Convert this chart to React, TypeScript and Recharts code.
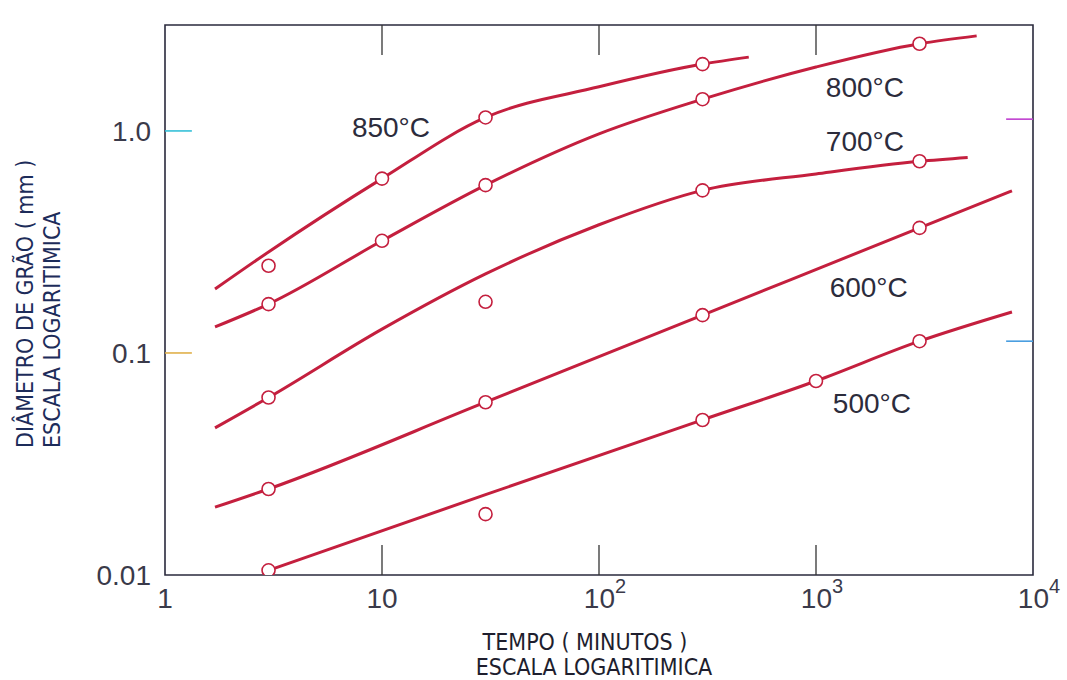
import React from "react";
import {
  ComposedChart,
  Line,
  Scatter,
  XAxis,
  YAxis,
  ReferenceArea,
  ReferenceLine,
  ReferenceDot,
} from "recharts";

// tempo (min) x diâmetro de grão (mm), escalas log
const curve850 = [
  { t: 1.7, d: 0.194 },
  { t: 3, d: 0.285 },
  { t: 10, d: 0.61 },
  { t: 30, d: 1.15 },
  { t: 100, d: 1.58 },
  { t: 300, d: 2.0 },
  { t: 490, d: 2.15 },
];
const curve800 = [
  { t: 1.7, d: 0.131 },
  { t: 3, d: 0.166 },
  { t: 10, d: 0.32 },
  { t: 30, d: 0.57 },
  { t: 100, d: 0.97 },
  { t: 300, d: 1.39 },
  { t: 1000, d: 1.94 },
  { t: 3000, d: 2.47 },
  { t: 5500, d: 2.68 },
];
const curve700 = [
  { t: 1.7, d: 0.046 },
  { t: 3, d: 0.063 },
  { t: 10, d: 0.128 },
  { t: 30, d: 0.227 },
  { t: 100, d: 0.378 },
  { t: 300, d: 0.54 },
  { t: 1000, d: 0.64 },
  { t: 3000, d: 0.73 },
  { t: 5000, d: 0.76 },
];
const curve600 = [
  { t: 1.7, d: 0.0202 },
  { t: 3, d: 0.0244 },
  { t: 30, d: 0.06 },
  { t: 300, d: 0.148 },
  { t: 3000, d: 0.366 },
  { t: 8000, d: 0.537 },
];
const curve500 = [
  { t: 3, d: 0.0105 },
  { t: 30, d: 0.023 },
  { t: 300, d: 0.05 },
  { t: 1000, d: 0.0748 },
  { t: 3000, d: 0.113 },
  { t: 8000, d: 0.153 },
];

const pts850 = [
  { t: 3, d: 0.247 },
  { t: 10, d: 0.61 },
  { t: 30, d: 1.15 },
  { t: 300, d: 2.0 },
];
const pts800 = [
  { t: 3, d: 0.166 },
  { t: 10, d: 0.32 },
  { t: 30, d: 0.57 },
  { t: 300, d: 1.39 },
  { t: 3000, d: 2.47 },
];
const pts700 = [
  { t: 3, d: 0.063 },
  { t: 30, d: 0.17 },
  { t: 300, d: 0.54 },
  { t: 3000, d: 0.73 },
];
const pts600 = [
  { t: 3, d: 0.0244 },
  { t: 30, d: 0.06 },
  { t: 300, d: 0.148 },
  { t: 3000, d: 0.366 },
];
const pts500 = [
  { t: 3, d: 0.0105 },
  { t: 30, d: 0.0188 },
  { t: 300, d: 0.0499 },
  { t: 1000, d: 0.0748 },
  { t: 3000, d: 0.113 },
];

const tempLabels = [
  { text: "850°C", t: 11, d: 1.04 },
  { text: "800°C", t: 1680, d: 1.58 },
  { text: "700°C", t: 1680, d: 0.9 },
  { text: "600°C", t: 1750, d: 0.198 },
  { text: "500°C", t: 1810, d: 0.0596 },
];

const xTicks = [1, 10, 100, 1000, 10000];
const yTicks = [0.01, 0.1, 1];
const yTickLabels = ["0.01", "0.1", "1.0"];
const innerXTicks = [10, 100, 1000];
const innerYTicks = [0.1, 1];

const RED = "#c41f3e";
const X_MIN = 1;
const X_MAX = 10000;
const Y_MIN = 0.01;
const Y_MAX = 3;

const leftTickColors = ["#e0b04a", "#35c0d8"];
const rightTickColors = ["#4a9ee0", "#c040d0"];

const tickFont = { fontFamily: "'Liberation Sans', Arial, sans-serif", fill: "#3a3a4a" };

function XTick(props: any) {
  const { x, y, payload } = props;
  const v = payload.value;
  const exp = Math.round(Math.log10(v));
  if (exp < 2) {
    return (
      <text x={x} y={y + 33} textAnchor="middle" fontSize={28} style={tickFont}>
        {String(v)}
      </text>
    );
  }
  return (
    <text x={x + 6} y={y + 33} textAnchor="middle" fontSize={28} style={tickFont}>
      10
      <tspan dy={-15} fontSize={20}>
        {exp}
      </tspan>
    </text>
  );
}

function YTick(props: any) {
  const { x, y, payload } = props;
  const i = yTicks.indexOf(payload.value);
  return (
    <text x={x} y={y} dy="0.36em" textAnchor="end" fontSize={28} style={tickFont}>
      {yTickLabels[i]}
    </text>
  );
}

function OpenCircle({ cx, cy }: any) {
  if (cx == null || cy == null) return null;
  return <circle cx={cx} cy={cy} r={6.5} fill="#fff" stroke={RED} strokeWidth={1.6} />;
}

const titleFont = "'Liberation Sans Narrow', 'DejaVu Sans Condensed', 'Liberation Sans', sans-serif";

export default function App() {
  const curves = [curve850, curve800, curve700, curve600, curve500];
  const points = [pts850, pts800, pts700, pts600, pts500];
  const xIn = 1.33;
  const yIn = 1.365;

  return (
    <div style={{ position: "absolute", left: 0, top: 0, background: "#fff" }}>
      <ComposedChart
        width={1067}
        height={680}
        margin={{ top: 25, right: 34, bottom: 55, left: 85 }}
      >
        <XAxis
          dataKey="t"
          type="number"
          scale="log"
          domain={[X_MIN, X_MAX]}
          ticks={xTicks}
          allowDataOverflow
          height={50}
          axisLine={false}
          tickLine={false}
          tickSize={0}
          tickMargin={0}
          tick={XTick}
          interval={0}
        />
        <YAxis
          dataKey="d"
          type="number"
          scale="log"
          domain={[Y_MIN, Y_MAX]}
          ticks={yTicks}
          allowDataOverflow
          width={80}
          axisLine={false}
          tickLine={false}
          tickSize={0}
          tickMargin={14}
          tick={YTick}
          interval={0}
        />
        <ReferenceArea
          x1={X_MIN}
          x2={X_MAX}
          y1={Y_MIN}
          y2={Y_MAX}
          fill="none"
          stroke="#2a2a3c"
          strokeWidth={1.6}
        />
        {innerXTicks.map((v) => (
          <ReferenceLine
            key={"b" + v}
            segment={[
              { x: v, y: Y_MIN },
              { x: v, y: Y_MIN * yIn },
            ]}
            stroke="#333"
            strokeWidth={1.3}
          />
        ))}
        {innerXTicks.map((v) => (
          <ReferenceLine
            key={"t" + v}
            segment={[
              { x: v, y: Y_MAX },
              { x: v, y: Y_MAX / yIn },
            ]}
            stroke="#333"
            strokeWidth={1.3}
          />
        ))}
        {innerYTicks.map((v, i) => (
          <ReferenceLine
            key={"l" + v}
            segment={[
              { x: X_MIN, y: v },
              { x: X_MIN * xIn, y: v },
            ]}
            stroke={leftTickColors[i]}
            strokeWidth={1.6}
          />
        ))}
        {innerYTicks.map((v, i) => (
          <ReferenceLine
            key={"r" + v}
            segment={[
              { x: X_MAX / xIn, y: v * 1.13 },
              { x: X_MAX, y: v * 1.13 },
            ]}
            stroke={rightTickColors[i]}
            strokeWidth={1.6}
          />
        ))}
        {curves.map((c, i) => (
          <Line
            key={"c" + i}
            data={c}
            dataKey="d"
            type="monotone"
            stroke={RED}
            strokeWidth={3}
            dot={false}
            activeDot={false}
            isAnimationActive={false}
          />
        ))}
        {points.map((p, i) => (
          <Scatter
            key={"p" + i}
            data={p}
            shape={<OpenCircle />}
            isAnimationActive={false}
          />
        ))}
        {tempLabels.map((l) => (
          <ReferenceDot
            key={l.text}
            x={l.t}
            y={l.d}
            r={0}
            fill="none"
            stroke="none"
            label={{
              value: l.text,
              position: "center",
              fontSize: 28,
              fill: "#2c2c3c",
              fontFamily: "'Liberation Sans', Arial, sans-serif",
            }}
          />
        ))}
      </ComposedChart>
      <svg
        width={1067}
        height={680}
        style={{ position: "absolute", left: 0, top: 0, pointerEvents: "none" }}
      >
        <text
          transform="translate(33,448) rotate(-90)"
          fontSize={23}
          fill="#1d2c5a"
          style={{ fontFamily: titleFont }}
        >
          DIÂMETRO DE GRÃO ( mm )
        </text>
        <text
          transform="translate(60,448) rotate(-90)"
          fontSize={23}
          fill="#1d2c5a"
          style={{ fontFamily: titleFont }}
        >
          ESCALA LOGARITIMICA
        </text>
        <text x={585} y={650} textAnchor="middle" fontSize={23} fill="#1e1e2e" style={{ fontFamily: titleFont }}>
          TEMPO ( MINUTOS )
        </text>
        <text x={594} y={675} textAnchor="middle" fontSize={23} fill="#1e1e2e" style={{ fontFamily: titleFont }}>
          ESCALA LOGARITIMICA
        </text>
      </svg>
    </div>
  );
}
